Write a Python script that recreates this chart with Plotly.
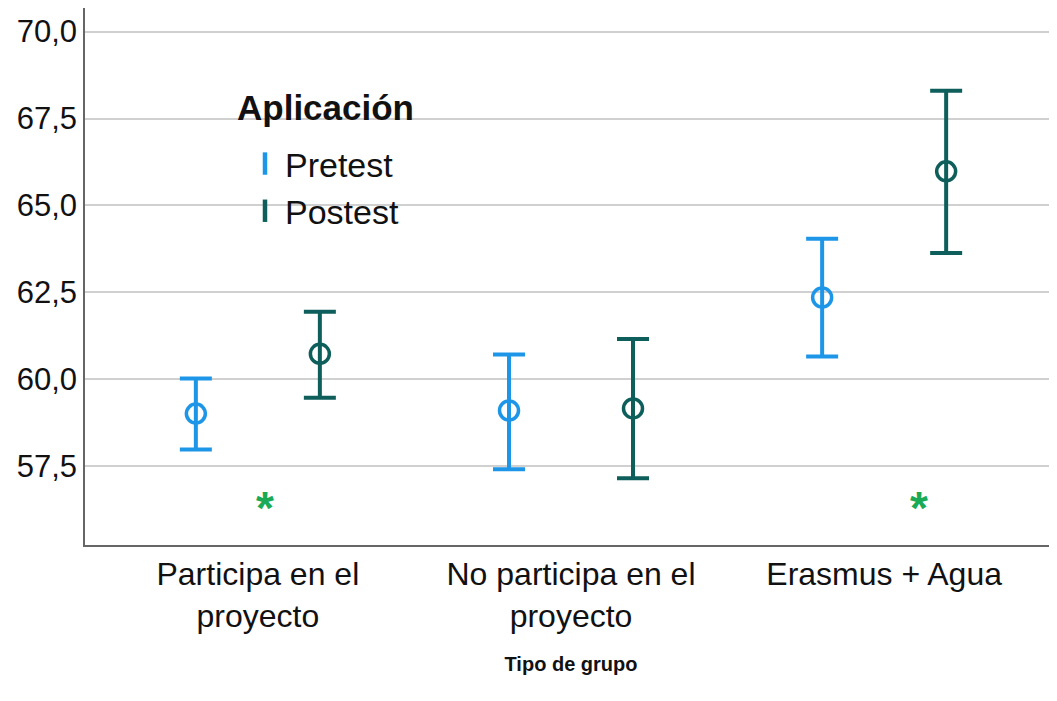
import plotly.graph_objects as go

# Data (mean and confidence interval bounds)
groups = ["Participa en el<br>proyecto", "No participa en el<br>proyecto", "Erasmus + Agua"]
pre_mean = [59.01, 59.10, 62.35]
pre_low = [57.98, 57.41, 60.65]
pre_high = [60.02, 60.71, 64.04]
post_mean = [60.73, 59.16, 65.98]
post_low = [59.47, 57.15, 63.63]
post_high = [61.94, 61.16, 68.30]
y_ticks = [57.5, 60.0, 62.5, 65.0, 67.5, 70.0]
star_x = [0.022, 2.11]
star_y = [56.30, 56.30]

BLUE = "#1E96E8"
TEAL = "#0E5F5B"
GREEN = "#1AAA55"
FONT = "Liberation Sans, Arial, sans-serif"
OFFSET = 0.198

fig = go.Figure()

series = [
    ("Pretest", pre_mean, pre_low, pre_high, BLUE, -OFFSET),
    ("Postest", post_mean, post_low, post_high, TEAL, OFFSET),
]
for name, mean, low, high, color, off in series:
    xs = [i + off for i in range(len(groups))]
    fig.add_trace(go.Scatter(
        x=xs, y=mean, mode="markers", name=name, showlegend=False,
        marker=dict(symbol="circle-open", size=19, color=color, line=dict(width=3.5, color=color)),
        error_y=dict(type="data", symmetric=False,
                     array=[h - m for h, m in zip(high, mean)],
                     arrayminus=[m - l for m, l in zip(mean, low)],
                     color=color, thickness=4, width=16),
    ))
    # legend-only entry with an I-shaped icon
    fig.add_trace(go.Scatter(
        x=[None], y=[None], mode="markers", name=name,
        marker=dict(symbol="line-ns", size=22, color=color, line=dict(width=4.5, color=color)),
    ))

for sx, sy in zip(star_x, star_y):
    fig.add_annotation(x=sx, y=sy, text="<b>*</b>", showarrow=False,
                       font=dict(size=46, color=GREEN, family=FONT))

# legend title and the white box behind the legend
fig.add_annotation(xref="paper", yref="paper", x=0.154, y=0.8156,
                   xanchor="left", yanchor="middle", showarrow=False,
                   text="<b>Aplicación</b>", font=dict(size=35, color="#111111", family=FONT))
fig.add_shape(type="rect", xref="paper", yref="paper", x0=0.1389, x1=0.357, y0=0.583, y1=0.8566,
              fillcolor="white", line=dict(width=0), layer="between")

fig.update_layout(
    width=1049, height=693,
    margin=dict(l=77, r=0, t=0, b=156),
    paper_bgcolor="white", plot_bgcolor="white",
    separators=",.",
    font=dict(family=FONT, color="#111111"),
    showlegend=True,
    legend=dict(
        font=dict(size=34),
        x=0.1646, y=0.7636, xanchor="left", yanchor="top",
        bgcolor="rgba(0,0,0,0)", borderwidth=0,
    ),
    xaxis=dict(
        range=[-0.552, 2.552], tickvals=list(range(len(groups))), ticktext=groups,
        showgrid=False, zeroline=False, showline=True, linecolor="#666666", linewidth=1.5,
        tickfont=dict(size=32), ticks="",
        title=dict(text="<b>Tipo de grupo</b>", font=dict(size=20), standoff=24),
    ),
    yaxis=dict(
        range=[55.23, 70.68], tickvals=y_ticks, tickformat=".1f",
        showgrid=True, gridcolor="#D0D0D0", gridwidth=2, zeroline=False,
        showline=True, linecolor="#666666", linewidth=1.5,
        tickfont=dict(size=31), ticks="", ticklabelstandoff=0,
    ),
)

fig.write_html("out.html")
